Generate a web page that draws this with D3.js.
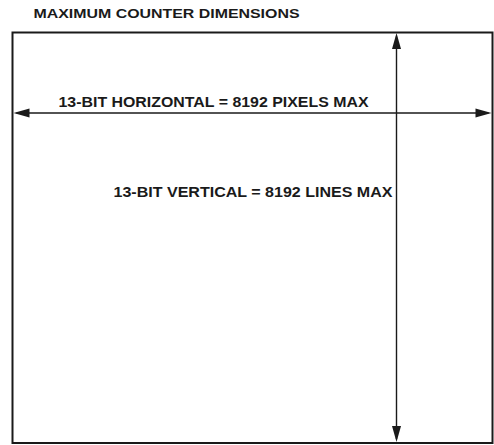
<!DOCTYPE html>
<html><head><meta charset="utf-8">
<script src="https://cdn.jsdelivr.net/npm/d3@7/dist/d3.min.js"></script>
<style>html,body{margin:0;padding:0;background:#fff;}svg{display:block;}</style>
</head><body>
<script>
// Data
const titleText = ["MAXIMUM COUNTER DIMENSIONS"];
const dimensionNames = ["HORIZONTAL", "VERTICAL"];
const dimensionBits = [13, 13];
const dimensionMax = [8192, 8192];
const dimensionUnits = ["PIXELS", "LINES"];
const labels = dimensionNames.map((n, i) => `${dimensionBits[i]}-BIT ${n} = ${dimensionMax[i]} ${dimensionUnits[i]} MAX`);

const W = 494, H = 445;
const svg = d3.select("body").append("svg").attr("width", W).attr("height", H);

// scales map counter extents onto the frame
const x = d3.scaleLinear().domain([0, dimensionMax[0]]).range([12.5, 492.5]);
const y = d3.scaleLinear().domain([0, dimensionMax[1]]).range([32.5, 443]);

const ink = "#1a1a1a";
const font = "'Liberation Sans', Arial, Helvetica, sans-serif";

// title
svg.append("text").attr("x", 33.5).attr("y", 17.5)
  .attr("font-family", font).attr("font-weight", "bold").attr("font-size", 12.5)
  .attr("textLength", 266).attr("lengthAdjust", "spacingAndGlyphs")
  .attr("fill", ink).text(titleText[0]);

// frame
svg.append("rect")
  .attr("x", x(0)).attr("y", y(0))
  .attr("width", x(dimensionMax[0]) - x(0)).attr("height", y(dimensionMax[1]) - y(0))
  .attr("fill", "none").attr("stroke", ink).attr("stroke-width", 2);

// arrows
const hy = y(dimensionMax[1] * 0.196);
const vx = x(dimensionMax[0] * 0.8);
const headL = 16, headW = 4.5;
const lineW = 1.4;

// horizontal arrow
svg.append("line").attr("x1", x(0) + 4).attr("x2", x(dimensionMax[0]) - 4)
  .attr("y1", hy).attr("y2", hy).attr("stroke", ink).attr("stroke-width", lineW);
const hx0 = x(0) + 1, hx1 = x(dimensionMax[0]) - 1;
svg.append("path").attr("d", `M${hx0},${hy} L${hx0 + headL},${hy - headW} L${hx0 + headL},${hy + headW} Z`).attr("fill", ink);
svg.append("path").attr("d", `M${hx1},${hy} L${hx1 - headL},${hy - headW} L${hx1 - headL},${hy + headW} Z`).attr("fill", ink);

// vertical arrow
svg.append("line").attr("x1", vx).attr("x2", vx)
  .attr("y1", y(0) + 4).attr("y2", y(dimensionMax[1]) - 4).attr("stroke", ink).attr("stroke-width", lineW);
const vy0 = y(0) + 0.5, vy1 = y(dimensionMax[1]) - 1;
svg.append("path").attr("d", `M${vx},${vy0} L${vx - headW},${vy0 + headL} L${vx + headW},${vy0 + headL} Z`).attr("fill", ink);
svg.append("path").attr("d", `M${vx},${vy1} L${vx - headW},${vy1 - headL} L${vx + headW},${vy1 - headL} Z`).attr("fill", ink);

// labels
svg.append("text").attr("x", 58.5).attr("y", 106.5)
  .attr("font-family", font).attr("font-weight", "bold").attr("font-size", 13.8)
  .attr("textLength", 310).attr("lengthAdjust", "spacingAndGlyphs")
  .attr("fill", ink).text(labels[0]);
svg.append("text").attr("x", 113.5).attr("y", 196.5)
  .attr("font-family", font).attr("font-weight", "bold").attr("font-size", 13.8)
  .attr("textLength", 279).attr("lengthAdjust", "spacingAndGlyphs")
  .attr("fill", ink).text(labels[1]);
</script>
</body></html>
